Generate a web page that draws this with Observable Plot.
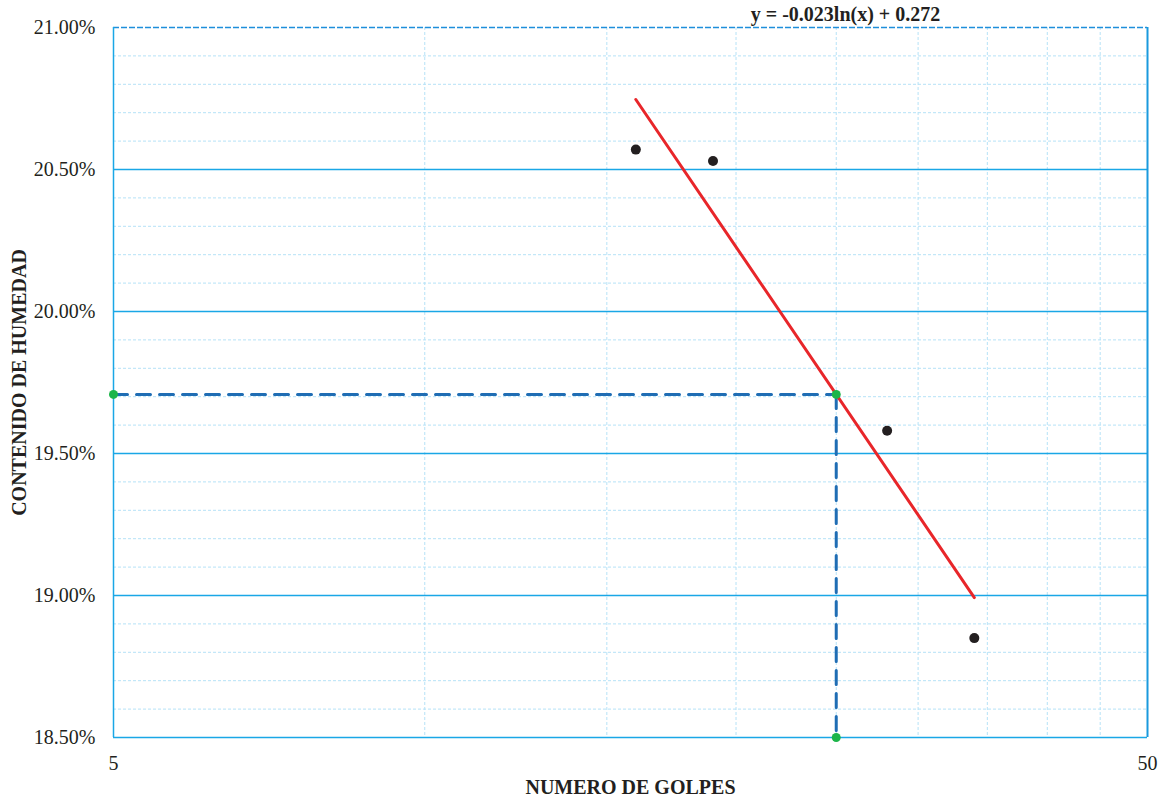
<!DOCTYPE html>
<html>
<head>
<meta charset="utf-8">
<script src="https://cdn.jsdelivr.net/npm/d3@7"></script>
<script src="https://cdn.jsdelivr.net/npm/@observablehq/plot@0.6"></script>
<style>
  html, body { margin: 0; padding: 0; background: #fff; }
  #chart { width: 1167px; height: 798px; }
  #chart svg text { font-family: 'Liberation Serif', 'Times New Roman', serif !important; font-variant: normal !important; font-variant-numeric: normal !important; }
  #chart svg g[aria-label$='tick label'] { font-size: 20px !important; fill: #231f20; }
  #chart svg g[aria-label$='axis label'] { font-size: 20px !important; font-weight: bold; fill: #231f20; }
</style>
</head>
<body>
<div id="chart"></div>
<script>
// Data
const golpes = [16, 19, 28, 34];
const humedad = [20.57, 20.53, 19.58, 18.85];   // %
const yTicks = [18.5, 19.0, 19.5, 20.0, 20.5, 21.0];
const yMinor = [18.6, 18.7, 18.8, 18.9, 19.1, 19.2, 19.3, 19.4, 19.6, 19.7, 19.8, 19.9, 20.1, 20.2, 20.3, 20.4, 20.6, 20.7, 20.8, 20.9];
const xTicks = [5, 50];
const xGrid = [10, 15, 20, 25, 30, 35, 40, 45];
const golpesRef = 25;
const equation = "y = -0.023ln(x) + 0.272";

// least-squares fit of humedad vs ln(golpes)
const lx = golpes.map(Math.log);
const mx = d3.mean(lx), my = d3.mean(humedad);
const b = d3.sum(lx, (v, i) => (v - mx) * (humedad[i] - my)) / d3.sum(lx, v => (v - mx) ** 2);
const a = my - b * mx;
const fit = x => a + b * Math.log(x);
const trend = [d3.min(golpes), d3.max(golpes)].map(x => ({x, y: fit(x)}));
const wRef = fit(golpesRef);

const pts = golpes.map((g, i) => ({x: g, y: humedad[i]}));

const chart = Plot.plot({
  width: 1167,
  height: 798,
  marginLeft: 113,
  marginRight: 20,
  marginTop: 27,
  marginBottom: 61,
  style: {fontFamily: "'Liberation Serif', 'Times New Roman', serif", fontSize: "20px", color: "#231f20", background: "#fff"},
  x: {type: "log", domain: [5, 50], ticks: xTicks, tickFormat: d => String(d), tickSize: 0, tickPadding: 18,
      label: "NUMERO DE GOLPES", labelAnchor: "center", labelArrow: "none", labelOffset: 56},
  y: {domain: [18.5, 21], ticks: yTicks, tickFormat: d => d.toFixed(2) + "%", tickSize: 0, tickPadding: 18,
      label: "CONTENIDO DE HUMEDAD", labelAnchor: "center", labelArrow: "none", labelOffset: 102},
  marks: [
    Plot.ruleY(yMinor, {stroke: "#b6e2f7", strokeWidth: 1, strokeDasharray: "3,2"}),
    Plot.ruleX(xGrid, {stroke: "#b6e2f7", strokeWidth: 1, strokeDasharray: "3,2"}),
    Plot.ruleY(yTicks.filter(d => d < 21), {stroke: "#1aa7e6", strokeWidth: 1.5}),
    Plot.ruleY([21], {stroke: "#1f8fdb", strokeWidth: 1.5, strokeDasharray: "6,2"}),
    Plot.ruleX([5], {stroke: "#1aa7e6", strokeWidth: 1.5}),
    Plot.ruleX([50], {stroke: "#1a9ade", strokeWidth: 2}),
    // reference dashed lines at 25 golpes
    Plot.line([{x: 5, y: wRef}, {x: golpesRef, y: wRef}], {x: "x", y: "y", stroke: "#1f6db4", strokeWidth: 3, strokeDasharray: "14,9"}),
    Plot.line([{x: golpesRef, y: wRef}, {x: golpesRef, y: 18.5}], {x: "x", y: "y", stroke: "#1f6db4", strokeWidth: 3, strokeDasharray: "14,9"}),
    Plot.line(trend, {x: "x", y: "y", stroke: "#e8262a", strokeWidth: 3}),
    Plot.dot(pts, {x: "x", y: "y", r: 5, fill: "#231f20", stroke: "none"}),
    Plot.dot([{x: 5, y: wRef}, {x: golpesRef, y: wRef}, {x: golpesRef, y: 18.5}], {x: "x", y: "y", r: 4.5, fill: "#1db54a", stroke: "none", clip: false}),
    Plot.text([equation], {frameAnchor: "top-left", dx: 732, dy: -7, text: d => d, textAnchor: "middle", lineAnchor: "bottom", fontWeight: "bold", fontSize: 20, fill: "#231f20"})
  ]
});

chart.querySelectorAll("g[aria-label$='tick label']").forEach(g => {
  g.removeAttribute("font-variant");
  g.setAttribute("font-family", "'Liberation Serif', serif");
  g.querySelectorAll("text").forEach(t => t.setAttribute("font-family", "'Liberation Serif', serif"));
});
document.getElementById("chart").appendChild(chart);
</script>
</body>
</html>
